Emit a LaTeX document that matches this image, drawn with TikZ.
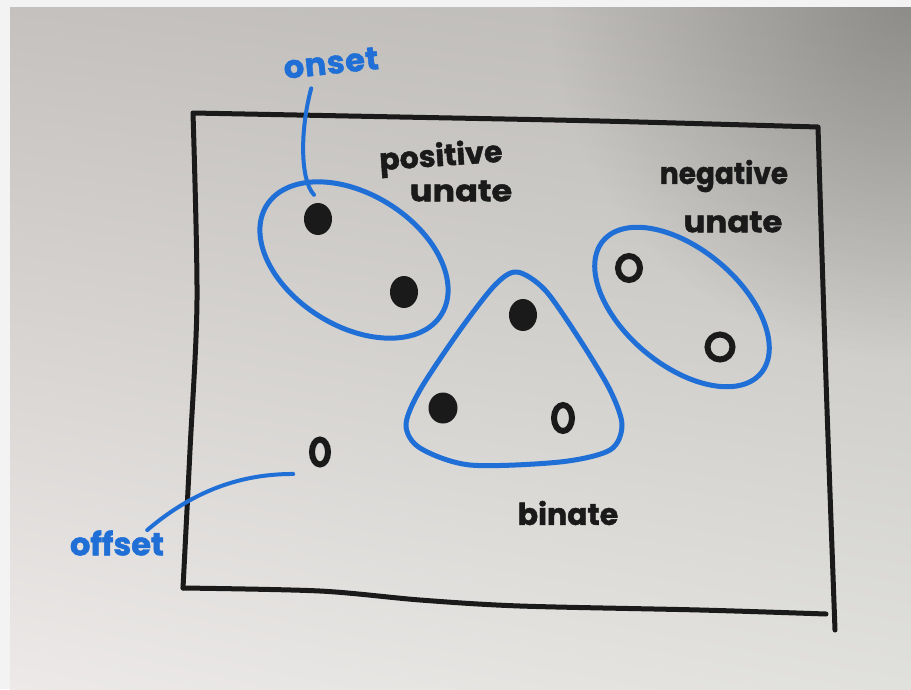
\documentclass[tikz,border=0pt]{standalone}
\usepackage{fontspec}
\setmainfont{Poppins}[BoldFeatures={FakeBold=1.4}]
\usetikzlibrary{shapes.geometric,calc,shadings,fadings}
\definecolor{ink}{HTML}{1A1A1A}
\definecolor{marker}{HTML}{1F6FD6}
\definecolor{edge}{HTML}{F3F3F3}
\definecolor{boardUL}{RGB}{196,193,190}
\definecolor{boardUR}{RGB}{190,188,184}
\definecolor{boardLL}{RGB}{236,233,232}
\definecolor{boardLR}{RGB}{224,224,220}
\definecolor{shadow}{RGB}{110,108,104}
\tikzfading[name=glow,inner color=transparent!0,outer color=transparent!100]
\begin{document}
\begin{tikzpicture}[x=1pt,y=-1pt,
  frame/.style={draw=ink,line width=5pt,line cap=round,line join=round},
  blob/.style={draw=marker,line width=5pt},
  lead/.style={draw=marker,line width=4pt,line cap=round},
  inktext/.style={text=ink,font=\fontsize{30}{30}\selectfont\bfseries,inner sep=0pt},
  bluetext/.style={text=marker,font=\fontsize{32}{32}\selectfont\bfseries,inner sep=0pt},
  dot/.style={ellipse,fill=ink,inner sep=0pt,minimum width=28pt,minimum height=32pt},
  ring/.style={ellipse,draw=ink,line width=6pt,inner sep=0pt,minimum width=22pt,minimum height=24pt}]
\useasboundingbox (0,0) rectangle (911,689);
% paper and whiteboard surface
\fill[edge] (0,0) rectangle (911,689);
\begin{scope}
  \clip (10,7) rectangle (911,689);
  \shade[upper left=boardUL,upper right=boardUR,lower left=boardLL,lower right=boardLR]
    (10,7) rectangle (911,689);
  \fill[shadow,fill opacity=0.6,path fading=glow] (911,0) circle (360);
\end{scope}

% frame
\draw[frame] plot[smooth] coordinates {(183,588) (190,450) (197,300) (193,113)}
  -- plot[smooth] coordinates {(193,113) (400,117) (600,121) (818,127)}
  -- plot[smooth] coordinates {(818,127) (826,380) (835,630)};
\draw[frame] plot[smooth] coordinates {(183,588) (320,591) (420,600) (520,606) (700,610) (826,614)};

% groups
\node[blob,ellipse,minimum width=206pt,minimum height=132pt,rotate=-32] (posgrp) at (354,260) {};
\node[blob,ellipse,minimum width=206pt,minimum height=116pt,rotate=-40] (neggrp) at (682,307) {};
\draw[blob] plot[smooth cycle] coordinates {(517,272) (545,290) (580,340) (610,390) (622,425)
  (610,450) (560,462) (470,465) (420,448) (406,425) (420,390) (460,330) (495,285)};

% points
\node[dot] (p1) at (318,219) {};
\node[dot] (p2) at (404,292) {};
\node[dot] (t1) at (523,315) {};
\node[dot,minimum width=29pt,minimum height=31pt] (t2) at (443,408) {};
\node[ring,minimum width=18pt,minimum height=26pt] (t3) at (563,418) {};
\node[ring] (n1) at (629,268) {};
\node[ring,minimum width=25pt,minimum height=25pt] (n2) at (720,347) {};
\node[ring,minimum width=16pt,minimum height=25pt] (off) at (320,452) {};

% labels
\node[bluetext,rotate=6] (onset) at (331,63) {\addfontfeatures{LetterSpace=2}onset};
\node[inktext,rotate=4] (pos) at (441,158) {positive};
\node[inktext,xscale=1.12] (posu) at (461,191) {unate};
\node[inktext,xscale=0.93] (neg) at (724,176) {negative};
\node[inktext,xscale=1.08] (negu) at (733,222) {unate};
\node[inktext] (bin) at (568,513) {binate};
\node[bluetext] (offset) at (117,543) {offset};

% leaders
\draw[lead] ([xshift=-21pt,yshift=-14pt]onset.south) .. controls (300,130) and (300,180) .. ([xshift=-4pt,yshift=8pt]p1.north);
\draw[lead] ([xshift=-17pt]offset.north east) .. controls (200,485) and (250,474) .. ([xshift=-19pt,yshift=-11pt]off.south west);
\end{tikzpicture}
\end{document}
